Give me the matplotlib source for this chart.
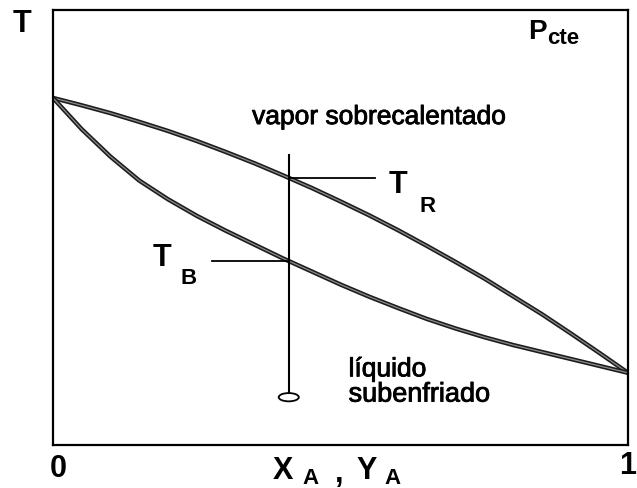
import matplotlib.pyplot as plt
import matplotlib.patheffects as pe
import numpy as np
from matplotlib.patches import Ellipse

plt.rcParams['font.family'] = ['Liberation Sans', 'DejaVu Sans']

# mole fraction of A and temperature along the two saturation curves
x_rocio = [0, 0.05, 0.1, 0.15, 0.2, 0.25, 0.3, 0.35, 0.4, 0.45, 0.5,
           0.55, 0.6, 0.65, 0.7, 0.75, 0.8, 0.85, 0.9, 0.95, 1.0]
t_rocio = [79.8, 78.1, 76.3, 74.3, 72.2, 69.9, 67.4, 64.8, 62.0, 59.1, 56.0,
           52.8, 49.4, 45.8, 42.1, 38.3, 34.2, 30.1, 25.7, 21.2, 16.6]

x_burbuja = [0, 0.05, 0.1, 0.15, 0.2, 0.25, 0.3, 0.35, 0.4, 0.45, 0.5,
             0.55, 0.6, 0.65, 0.7, 0.75, 0.8, 0.85, 0.9, 0.95, 1.0]
t_burbuja = [79.8, 72.6, 66.3, 60.8, 56.5, 52.7, 49.3, 46.1, 42.9, 39.9, 36.9,
             34.1, 31.5, 29.0, 26.8, 24.8, 23.0, 21.4, 19.8, 18.2, 16.6]

# composition of the mixture being heated and its starting temperature
x_mezcla = 0.41
t_inicial = 11.0
t_arriba = 66.7


def main():
    fig = plt.figure(figsize=(6.37, 4.88), dpi=100)
    ax = fig.add_axes([0.0832, 0.088, 0.9027, 0.8914])
    ax.set_xlim(0, 1)
    ax.set_ylim(0, 100)
    ax.set_xticks([])
    ax.set_yticks([])
    for s in ax.spines.values():
        s.set_linewidth(1.6)
        s.set_color('black')

    # saturation curves, drawn as a dark stroke with a lighter core
    for xs, ts in [(x_rocio, t_rocio), (x_burbuja, t_burbuja)]:
        ax.plot(xs, ts, color='#1c1c1c', lw=3.2, solid_capstyle='round',
                solid_joinstyle='round')
        ax.plot(xs, ts, color='#8c8c8c', lw=0.9, solid_joinstyle='round')

    # heating path of the subcooled liquid
    ax.plot([x_mezcla, x_mezcla], [t_inicial + 1.0, t_arriba], color='black', lw=1.5)
    ax.add_patch(Ellipse((x_mezcla, t_inicial), 0.035, 1.9, facecolor='white',
                         edgecolor='black', lw=1.3))

    # dew and bubble temperatures
    t_r = np.interp(x_mezcla, x_rocio, t_rocio)
    t_b = np.interp(x_mezcla, x_burbuja, t_burbuja)
    ax.plot([x_mezcla, 0.56], [t_r, t_r], color='black', lw=1.3)
    ax.plot([0.277, x_mezcla], [t_b, t_b], color='black', lw=1.3)

    big = dict(fontsize=22, fontweight='bold', ha='center', va='center')
    sub = dict(fontsize=16, fontweight='bold', ha='center', va='center')
    ax.text(0.600, 59.8, 'T', **big)
    ax.text(0.652, 54.9, 'R', **sub)
    ax.text(0.190, 43.0, 'T', **big)
    ax.text(0.235, 38.2, 'B', **sub)

    heavy = [pe.withStroke(linewidth=0.6, foreground='black')]
    ax.text(0.567, 75.4, 'vapor sobrecalentado', fontsize=19, ha='center',
            va='center', path_effects=heavy)
    ax.text(0.514, 17.4, 'líquido', fontsize=19, ha='left', va='center',
            path_effects=heavy)
    ax.text(0.514, 11.6, 'subenfriado', fontsize=19.5, ha='left', va='center',
            path_effects=heavy)

    ax.text(0.842, 94.9, 'P', fontsize=20, fontweight='bold', ha='center', va='center')
    ax.text(0.860, 93.4, 'cte', fontsize=16, fontweight='bold', ha='left', va='center')

    # axis names and composition limits
    fig.text(0.0353, 0.950, 'T', **big)
    ax.text(0.009, -5.6, '0', clip_on=False, **big)
    fig.text(0.999, 0.045, '1', fontsize=22, fontweight='bold', ha='right', va='center')
    ax.text(0.4, -5.9, 'X', clip_on=False, **big)
    ax.text(0.448, -7.6, 'A', clip_on=False, **sub)
    ax.text(0.498, -6.6, ',', clip_on=False, **big)
    ax.text(0.545, -5.9, 'Y', clip_on=False, **big)
    ax.text(0.591, -7.6, 'A', clip_on=False, **sub)

    fig.savefig('out.png', dpi=100)


if __name__ == "__main__":
    main()
